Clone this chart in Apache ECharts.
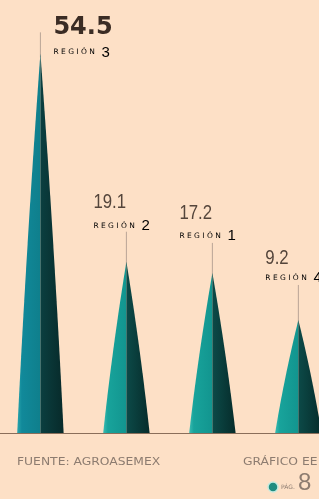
<!DOCTYPE html>
<html>
<head>
<meta charset="utf-8">
<script src="https://cdn.jsdelivr.net/npm/echarts@6/dist/echarts.min.js"></script>
<style>
  html, body { margin: 0; padding: 0; background: #fde0c6; }
  #chart { width: 319px; height: 499px; }
</style>
</head>
<body>
<div id="chart"></div>
<script>
// datos
const regions = ['REGIÓN 3', 'REGIÓN 2', 'REGIÓN 1', 'REGIÓN 4'];
const values = [54.5, 19.1, 17.2, 9.2];
const yMin = -10;
const yMax = 60;

// colores de cada pico (cara clara / cara oscura)
const palette = [
  { light: ['#2aa6ad', '#11899a', '#0f7f8c'], dark: ['#0b3f40', '#072a2a'] },
  { light: ['#3bbcb2', '#18a39b', '#12958f'], dark: ['#0c4a48', '#062c2b'] },
  { light: ['#3bbcb2', '#18a39b', '#12958f'], dark: ['#0c4a48', '#062c2b'] },
  { light: ['#3bbcb2', '#18a39b', '#12958f'], dark: ['#0c4a48', '#062c2b'] }
];
// posicion de las etiquetas respecto a la punta
const labelPos = [
  { dx: 13, num: -26, reg: -1, line: -21, big: true },
  { dx: -33, num: -60, reg: -36, line: -30 },
  { dx: -33, num: -60, reg: -37, line: -30 },
  { dx: -33, num: -62, reg: -42, line: -35 }
];

const txtColor = '#8d7c70';

function curve(x0, yb, xt, yt, c) {
  // cuadratica de la base a la punta, un poco abombada
  const cx = x0 + (xt - x0) * (1 - c), cy = yb - (yb - yt) * 0.5;
  const pts = [];
  for (let k = 0; k <= 20; k++) {
    const t = k / 20;
    const x = (1 - t) * (1 - t) * x0 + 2 * (1 - t) * t * cx + t * t * xt;
    const y = (1 - t) * (1 - t) * yb + 2 * (1 - t) * t * cy + t * t * yt;
    pts.push([x, y]);
  }
  return pts;
}

function renderSpike(params, api) {
  const i = api.value(0);
  const v = api.value(1);
  const tip = api.coord([i, v]);
  const base = api.coord([i, yMin]);
  const half = api.size([1, 0])[0] * 0.27;
  const pal = palette[i];
  const lp = labelPos[i];

  const leftPts = curve(tip[0] - half, base[1], tip[0], tip[1], 0.6);
  leftPts.push([tip[0], base[1]]);
  const rightPts = curve(tip[0] + half, base[1], tip[0], tip[1], 0.6).reverse();
  rightPts.push([tip[0], base[1]]);

  const num = String(v);
  const regNum = regions[i].split(' ')[1];

  return {
    type: 'group',
    children: [
      {
        type: 'line',
        shape: { x1: tip[0], y1: tip[1] + lp.line, x2: tip[0], y2: tip[1] + 4 },
        style: { stroke: '#a8968a', lineWidth: 0.8 }
      },
      {
        type: 'polygon',
        shape: { points: leftPts },
        style: {
          fill: new echarts.graphic.LinearGradient(0, 0, 1, 0, [
            { offset: 0, color: pal.light[0] },
            { offset: 0.2, color: pal.light[1] },
            { offset: 1, color: pal.light[2] }
          ])
        }
      },
      {
        type: 'polygon',
        shape: { points: rightPts },
        style: {
          fill: new echarts.graphic.LinearGradient(0, 0, 1, 0, [
            { offset: 0, color: pal.dark[0] },
            { offset: 1, color: pal.dark[1] }
          ])
        }
      },
      {
        type: 'text',
        x: tip[0] + lp.dx,
        y: tip[1] + lp.num,
        scaleX: lp.big ? 1 : 0.8,
        style: {
          text: num,
          fill: lp.big ? '#3b2c24' : '#54453b',
          font: lp.big ? 'bold 24px "DejaVu Sans", sans-serif'
                       : '21px "Liberation Sans", sans-serif',
          align: 'left',
          verticalAlign: 'middle'
        }
      },
      {
        type: 'text',
        x: tip[0] + lp.dx,
        y: tip[1] + lp.reg,
        style: {
          text: '{a|R E G I Ó N}  {b|' + regNum + '}',
          align: 'left',
          verticalAlign: 'middle',
          rich: {
            a: { fontSize: 7.5, fontFamily: 'DejaVu Sans', color: txtColor },
            b: { fontSize: 15, fontFamily: '"Liberation Sans"', color: txtColor }
          }
        }
      }
    ]
  };
}

const chart = echarts.init(document.getElementById('chart'));
chart.setOption({
  backgroundColor: '#fde0c6',
  animation: false,
  grid: { left: 0, right: 0, top: 21, bottom: 66 },
  xAxis: {
    type: 'value',
    min: -0.47,
    max: 3.24,
    axisLine: { show: true, onZero: false, lineStyle: { color: '#8a6e5a', width: 1 } },
    axisTick: { show: false },
    axisLabel: { show: false },
    splitLine: { show: false }
  },
  yAxis: {
    type: 'value',
    min: yMin,
    max: yMax,
    show: false,
    splitLine: { show: false }
  },
  series: [{
    type: 'custom',
    clip: false,
    renderItem: renderSpike,
    data: values.map((v, i) => [i, v]),
    z: 2
  }],
  graphic: [
    {
      type: 'text', left: 17, top: 457, scaleX: 1.12,
      style: { text: 'FUENTE: AGROASEMEX', font: '11px "DejaVu Sans"', fill: txtColor }
    },
    {
      type: 'text', left: 243, top: 457, scaleX: 1.12,
      style: { text: 'GRÁFICO EE', font: '11px "DejaVu Sans"', fill: txtColor }
    },
    {
      type: 'circle', shape: { cx: 273, cy: 487, r: 5 },
      style: { fill: '#1f8c80', stroke: '#c4eadf', lineWidth: 1.5 }
    },
    {
      type: 'text', left: 281, top: 484,
      style: { text: 'PÁG.', font: '6px "DejaVu Sans"', fill: txtColor }
    },
    {
      type: 'text', left: 298, top: 471,
      style: { text: '8', font: '24px "Liberation Sans"', fill: txtColor }
    }
  ]
});
</script>
</body>
</html>
